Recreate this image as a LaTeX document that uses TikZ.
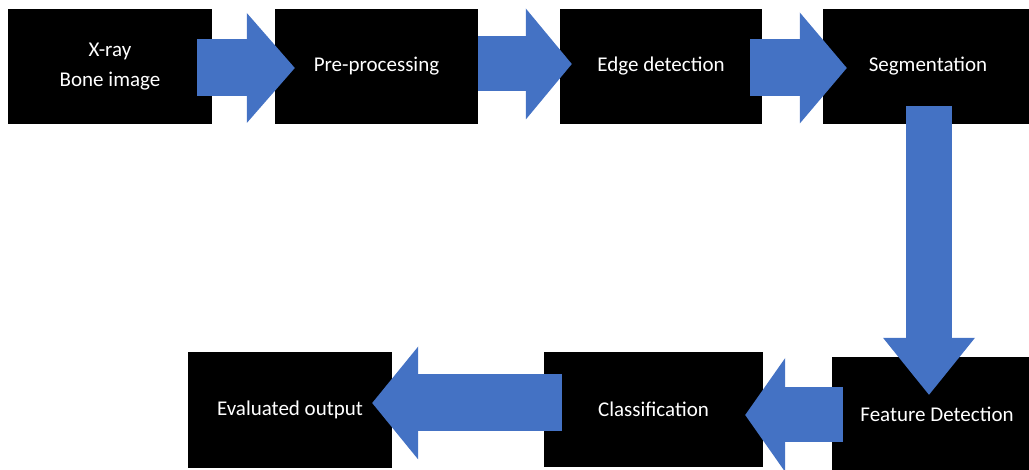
\documentclass[tikz,border=0pt]{standalone}
\usepackage{fontspec}
\setmainfont{Carlito}
\usetikzlibrary{arrows.meta,calc}
\definecolor{stepblue}{RGB}{68,114,196}

\begin{document}
\begin{tikzpicture}
[x=1pt,y=-1pt,
every node/.style={fill=black,text=white,font=\fontsize{21}{30}\selectfont,align=center,inner sep=0pt},
stage/.style={minimum width=#1,minimum height=115pt},
flow/.style n args={3}{draw=stepblue,line width=#1pt,-{Triangle[length=#3pt,width=#2pt,line width=0pt]}}]
\useasboundingbox (0,0) rectangle (1029,470);
\clip (0,0) rectangle (1029,470);
% top row
\node (xray) [stage=204pt] at (110,66.5) {X-ray\\Bone image};
\node (prep) [stage=203pt] at (376.5,66.5) {Pre-processing};
\node (edge) [stage=202pt] at (661,66.5) {Edge detection};
\node (seg) [stage=210pt] at (928,66.5) {Segmentation};
% bottom row
\node (feat) [stage=210pt] at (937,414.5) {Feature Detection};
\node (class) [stage=219pt] at (653.5,409.5) {Classification};
\node (eval) [stage=204pt,minimum height=116pt] at (290,410) {Evaluated output};
% block arrows
\draw[flow={57}{110}{48}] ($(xray.east)+(-15,1.5)$) -- ($(prep.west)+(20,1.5)$);
\draw[flow={55}{111}{46}] ($(prep.east)+(0,-2.5)$) -- ($(edge.west)+(12,-2.5)$);
\draw[flow={57}{111}{47}] ($(edge.east)+(-12,1.5)$) -- ($(seg.west)+(24,1.5)$);
\draw[flow={46}{92}{57}] ($(seg.south)+(1,-18)$) -- ($(feat.north)+(-8,38)$);
\draw[flow={55}{114}{40}] ($(feat.west)+(11,0.5)$) -- ($(class.east)+(-18,5.5)$);
\draw[flow={57}{113}{46}] ($(class.west)+(18,-6.5)$) -- ($(eval.east)+(-20,-7)$);
\end{tikzpicture}
\end{document}
